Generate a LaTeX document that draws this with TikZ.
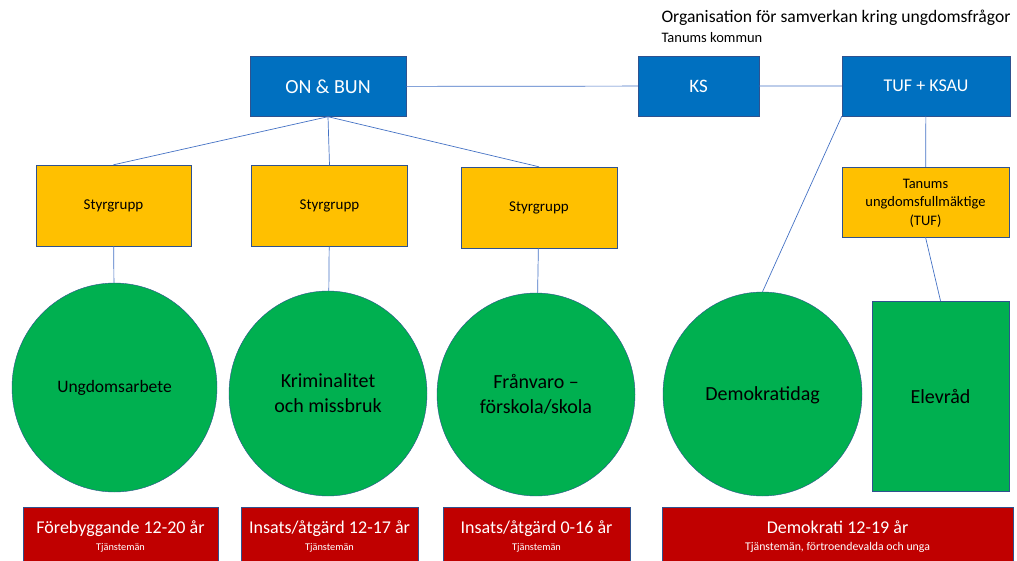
\documentclass[tikz,border=0pt]{standalone}
\usepackage{fontspec}
\setmainfont{Carlito}
\usepackage{tikz}
\usetikzlibrary{shapes.geometric}
\definecolor{boardblue}{HTML}{0070C0}
\definecolor{edgeblue}{HTML}{2F528F}
\definecolor{linkblue}{HTML}{4472C4}
\definecolor{amber}{HTML}{FFC000}
\definecolor{leaf}{HTML}{00B050}
\definecolor{crimson}{HTML}{C00000}
\newcommand\agetext[3][10]{{\fontsize{18}{19}\selectfont #2}\\[-2pt]{\fontsize{#1}{12}\selectfont #3}}

\begin{document}
\begin{tikzpicture}[x=1pt,y=-1pt,
  boardbox/.style={draw=edgeblue,fill=boardblue,text=white,minimum height=60pt,inner sep=0pt,font=\fontsize{18}{22}\selectfont},
  groupbox/.style={draw=edgeblue,fill=amber,minimum width=156pt,minimum height=81pt,inner sep=0pt,align=center,font=\fontsize{15}{18.5}\selectfont},
  focus/.style={ellipse,draw=edgeblue,fill=leaf,inner sep=0pt,align=center,font=\fontsize{20}{25}\selectfont},
  agebox/.style={draw=edgeblue,fill=crimson,text=white,minimum height=60pt,inner sep=0pt,align=center,font=\fontsize{18}{19}\selectfont},
  conn/.style={draw=linkblue,line width=.7pt}]
\useasboundingbox (0,0) rectangle (1017,561);
\clip (0,0) rectangle (1017,561);
% heading
\node[anchor=west,font=\fontsize{17.6}{22}\selectfont] (title) at (658,18) {Organisation för samverkan kring ungdomsfrågor};
\node[anchor=west,font=\fontsize{14.5}{18}\selectfont] (subtitle) at (658,38) {Tanums kommun};
% top row
\node[boardbox,minimum width=156pt,font=\fontsize{20}{24}\selectfont] (onbun) at (328,86.5) {ON \& BUN};
\node[boardbox,minimum width=121pt,font=\fontsize{19}{23}\selectfont] (ks) at (698.5,86) {KS};
\node[boardbox,minimum width=168pt] (tuf) at (926,86) {TUF + KSAU};
% styrgrupper
\node[groupbox,minimum width=155pt] (sty1) at (113.5,205.5) {Styrgrupp};
\node[groupbox] (sty2) at (329.5,206) {Styrgrupp};
\node[groupbox] (sty3) at (539,207.5) {Styrgrupp};
\node[groupbox,minimum width=167pt,minimum height=70pt,text depth=0pt,font=\fontsize{14.5}{18.5}\selectfont] (tufbox) at (925.5,202) {Tanums\\ungdomsfullmäktige\\(TUF)};
% areas
\node[focus,minimum width=205pt,minimum height=209pt,font=\fontsize{17.5}{22}\selectfont] (c1) at (114.5,387.5) {Ungdomsarbete};
\node[focus,minimum width=198pt,minimum height=205pt] (c2) at (328,393.5) {Kriminalitet\\och missbruk};
\node[focus,minimum width=198pt,minimum height=203pt] (c3) at (536,394.5) {Frånvaro –\\förskola/skola};
\node[focus,minimum width=199pt,minimum height=204pt,text depth=0pt] (c4) at (762.5,394) {Demokratidag};
\node[draw=edgeblue,fill=leaf,minimum width=137pt,minimum height=190pt,inner sep=0pt,font=\fontsize{20}{25}\selectfont] (elev) at (940.5,396) {Elevråd};
% age groups
\node[agebox,minimum width=195pt] (age1) at (120.5,537) {\agetext[10.3]{Förebyggande 12-20 år}{Tjänstemän}};
\node[agebox,minimum width=177pt] (age2) at (329.5,537) {\agetext[10.3]{Insats/åtgärd 12-17 år}{Tjänstemän}};
\node[agebox,minimum width=187pt] (age3) at (536.5,537) {\agetext[10.3]{Insats/åtgärd 0-16 år}{Tjänstemän}};
\node[agebox,minimum width=351pt] (age4) at (837.5,537) {\agetext[11.8]{Demokrati 12-19 år}{Tjänstemän, förtroendevalda och unga}};
% connectors
\draw[conn] (onbun) -- (ks) -- (tuf);
\draw[conn] (onbun.south) -- (sty1.north);
\draw[conn] (onbun.south) -- (sty2.north);
\draw[conn] (onbun.south) -- (sty3.north);
\draw[conn] (sty1) -- (c1);
\draw[conn] (sty2) -- (c2);
\draw[conn] (sty3) -- (c3);
\draw[conn] (tuf.south west) -- (c4.north);
\draw[conn] (tuf) -- (tufbox);
\draw[conn] (tufbox.south) -- (elev.north);
\end{tikzpicture}
\end{document}
